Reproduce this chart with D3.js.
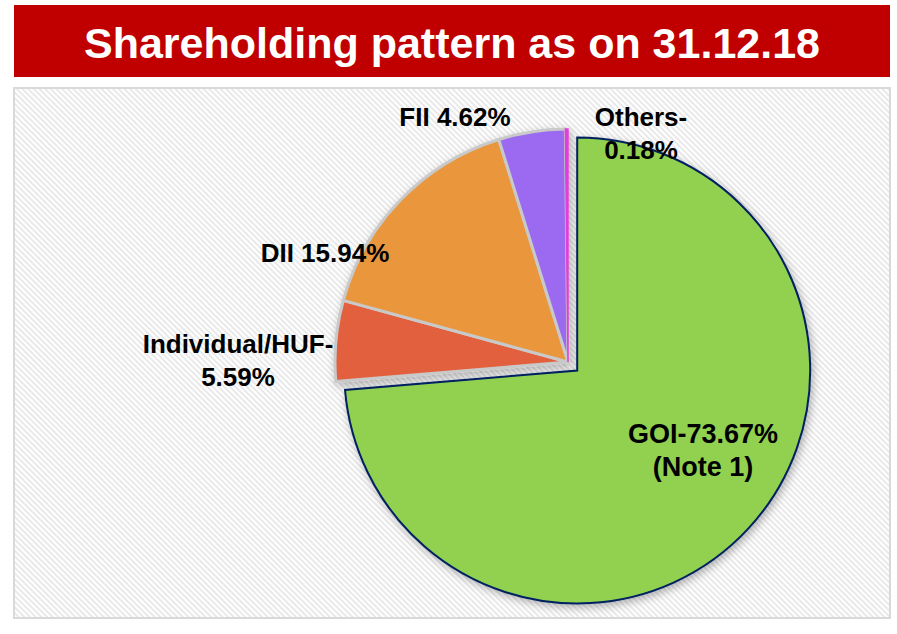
<!DOCTYPE html>
<html>
<head>
<meta charset="utf-8">
<script src="https://cdn.jsdelivr.net/npm/d3@7"></script>
<style>
  body { margin: 0; background: #fff; }
  svg { display: block; }
  text { font-family: "Liberation Sans", Arial, sans-serif; font-weight: bold; }
</style>
</head>
<body>
<svg id="chart" width="897" height="634"></svg>
<script>
// data
const categories = ["GOI", "Individual/HUF", "DII", "FII", "Others"];
const shares = [73.67, 5.59, 15.94, 4.62, 0.18];
const labelLines = [
    ["GOI-73.67%", "(Note 1)"],
    ["Individual/HUF-", "5.59%"],
    ["DII 15.94%"],
    ["FII 4.62%"],
    ["Others-", "0.18%"]
];
const title = "Shareholding pattern as on 31.12.18";

const colors = ["#92D050", "#E2603C", "#E9963C", "#9B6BF0", "#E040D8"];
// label anchor (centre, first baseline) picked by hand, like the excel layout
const labelPos = [[703, 443], [238, 353], [325, 262], [455, 126], [641, 126]];

const svg = d3.select("#chart");
const defs = svg.append("defs");

const hatch = defs.append("pattern")
    .attr("id", "hatch")
    .attr("patternUnits", "userSpaceOnUse")
    .attr("width", 4)
    .attr("height", 4)
    .attr("patternTransform", "rotate(-45)");
hatch.append("rect").attr("width", 4).attr("height", 4).attr("fill", "#ffffff");
hatch.append("rect").attr("width", 2).attr("height", 4).attr("fill", "#e9e9e9");

const shadow = defs.append("filter")
    .attr("id", "shadow")
    .attr("x", "-20%").attr("y", "-20%")
    .attr("width", "140%").attr("height", "140%");
shadow.append("feDropShadow")
    .attr("dx", 2).attr("dy", 3)
    .attr("stdDeviation", 4)
    .attr("flood-color", "#000")
    .attr("flood-opacity", 0.3);

// title bar
svg.append("rect")
    .attr("x", 14).attr("y", 5)
    .attr("width", 876).attr("height", 72)
    .attr("fill", "#C00000");
svg.append("text")
    .attr("x", 452).attr("y", 58)
    .attr("text-anchor", "middle")
    .attr("fill", "white")
    .attr("font-size", "43px")
    .text(title);

// chart panel
svg.append("rect")
    .attr("x", 14).attr("y", 88)
    .attr("width", 876).attr("height", 530)
    .attr("fill", "url(#hatch)")
    .attr("stroke", "#d9d9d9")
    .attr("stroke-width", 2);

// pie
const cx = 568, cy = 362, radius = 233, explode = 12.5;

const pie = d3.pie().sort(null).value(d => d.value);
const arcs = pie(categories.map((c, i) => ({ name: c, value: shares[i], idx: i })));
const arc = d3.arc().innerRadius(0).outerRadius(radius);

const pieG = svg.append("g")
    .attr("transform", "translate(" + cx + "," + cy + ")")
    .attr("filter", "url(#shadow)");

// smaller slices first, GOI (exploded) drawn on top
const order = arcs.slice(1).concat([arcs[0]]);

pieG.selectAll("path")
    .data(order)
    .join("path")
    .attr("d", arc)
    .attr("transform", d => {
        if (d.data.idx !== 0) return null;
        const mid = (d.startAngle + d.endAngle) / 2;
        return "translate(" + (explode * Math.sin(mid)) + "," + (-explode * Math.cos(mid)) + ")";
    })
    .attr("fill", d => colors[d.data.idx])
    .attr("stroke", d => {
        if (d.data.idx === 0) return "#002060";
        if (d.data.idx === 4) return colors[4]; // tiny slice, keep it visible
        return "#c9c9c9";
    })
    .attr("stroke-width", d => d.data.idx === 0 ? 2 : (d.data.idx === 4 ? 1.5 : 3))
    .attr("stroke-linejoin", "miter");

// labels
const lab = svg.append("g")
    .selectAll("text")
    .data(arcs)
    .join("text")
    .attr("x", d => labelPos[d.data.idx][0])
    .attr("y", d => labelPos[d.data.idx][1])
    .attr("text-anchor", "middle")
    .attr("font-size", d => d.data.idx === 0 ? "27px" : "26px")
    .attr("fill", "#000");

lab.selectAll("tspan")
    .data(d => labelLines[d.data.idx].map(t => ({ t: t, x: labelPos[d.data.idx][0] })))
    .join("tspan")
    .attr("x", d => d.x)
    .attr("dy", (d, i) => i === 0 ? 0 : 33)
    .text(d => d.t);
</script>
</body>
</html>
